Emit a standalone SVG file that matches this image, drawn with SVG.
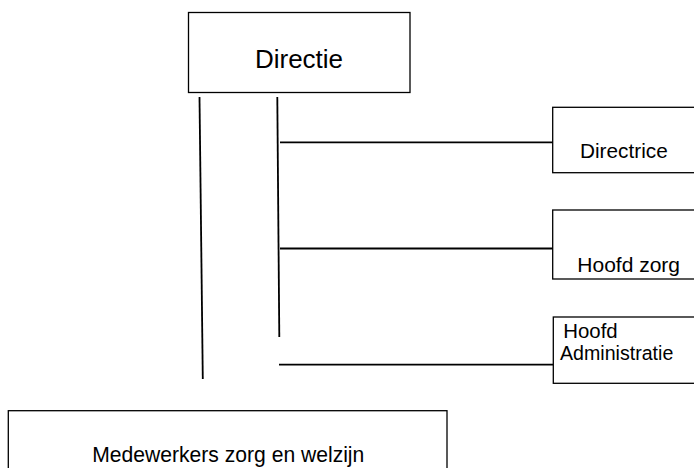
<svg xmlns="http://www.w3.org/2000/svg" width="694" height="468" viewBox="0 0 694 468">
<style>
.box{fill:#fff;stroke:#000;stroke-width:1.3}
.ln{stroke:#000;stroke-width:1.8;fill:none}
text{font-family:"Liberation Sans",Arial,sans-serif;fill:#000}
.s{font-size:20.5px}
</style>
<rect width="694" height="468" fill="#fff"/>
<g id="connectors">
<line class="ln" x1="199.5" y1="97" x2="202.8" y2="379"/>
<line class="ln" x1="277.3" y1="97" x2="279.3" y2="337"/>
<line class="ln" x1="280" y1="142.3" x2="553" y2="142.3"/>
<line class="ln" x1="280" y1="248.5" x2="553" y2="248.5"/>
<line class="ln" x1="279" y1="364.6" x2="553" y2="364.6"/>
</g>
<g id="directie">
<rect class="box" x="188.5" y="12.5" width="221.5" height="80"/>
<text x="299" y="68" font-size="26" text-anchor="middle">Directie</text>
</g>
<g id="directrice">
<rect class="box" x="552.7" y="107.3" width="145" height="65.4"/>
<text class="s" x="580" y="158.3" textLength="87.7" lengthAdjust="spacingAndGlyphs">Directrice</text>
</g>
<g id="hoofd-zorg">
<rect class="box" x="552.7" y="210" width="145" height="69"/>
<text class="s" x="577.3" y="271.5" textLength="102.7" lengthAdjust="spacingAndGlyphs">Hoofd zorg</text>
</g>
<g id="hoofd-administratie">
<rect class="box" x="553.3" y="317" width="145" height="66.3"/>
<text class="s" x="563.3" y="338.3" textLength="54.4" lengthAdjust="spacingAndGlyphs">Hoofd</text>
<text class="s" x="560" y="360" textLength="113.3" lengthAdjust="spacingAndGlyphs">Administratie</text>
</g>
<g id="medewerkers">
<rect class="box" x="8.3" y="410.7" width="438.7" height="70"/>
<text x="92.3" y="462.3" font-size="21.5" textLength="272" lengthAdjust="spacingAndGlyphs">Medewerkers zorg en welzijn</text>
</g>
</svg>
